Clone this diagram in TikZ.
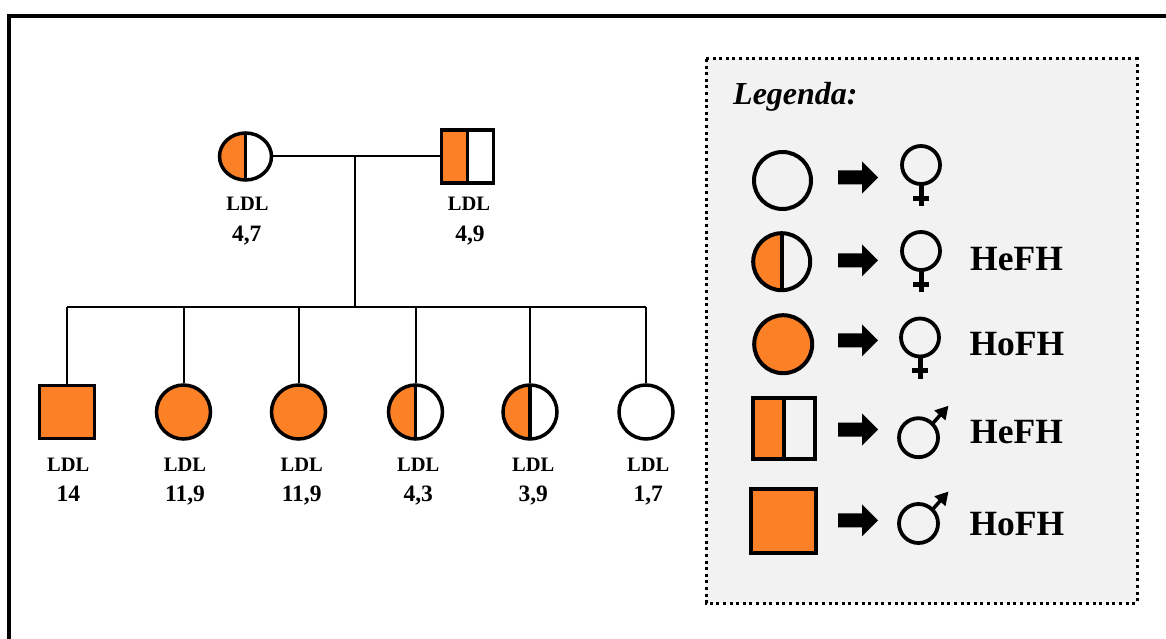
\documentclass[tikz,border=0pt]{standalone}
\usepackage{fontspec}
\setmainfont{Liberation Serif}
\usetikzlibrary{arrows.meta,shapes.geometric}
\definecolor{fhorange}{RGB}{252,129,38}
\definecolor{legendgray}{RGB}{242,242,242}
\def\legarrow(#1,#2){\fill[shift={(#1,#2)}] (0,-7) -- (24,-7) -- (24,-16) -- (40,0) -- (24,16) -- (24,7) -- (0,7) -- cycle;}
\def\femalesign(#1,#2){\draw[line width=3.8pt] (#1,#2) circle (19); \draw[line width=5pt] (#1,#2) ++(0,20) -- ++(0,21); \draw[line width=5pt] (#1,#2) ++(-8,33) -- ++(16,0);}
\def\malesign(#1,#2){\draw[line width=3.8pt] (#1,#2) circle (19.5); \draw[line width=3.5pt, -{Triangle[length=13pt,width=14pt]}] (#1,#2) ++(14,-14) -- ++(16,-18);}

\tikzset{
	person/.style={draw, line width=3.5pt, inner sep=0pt, fill=white},
	female/.style={person, circle, minimum size=54pt},
	male/.style={person, rectangle, minimum width=55pt, minimum height=53pt},
	hofh/.style={fill=fhorange},
	hefh/.style={path picture={\fill[fhorange] (path picture bounding box.south west) rectangle (path picture bounding box.north); \draw[line width=#1] (path picture bounding box.south) -- (path picture bounding box.north);}},
	hefh/.default=3.5pt,
	line/.style={line width=2pt},
	ldl/.style={anchor=base, inner sep=0pt, font=\bfseries\fontsize{20.5}{21}\selectfont},
	value/.style={anchor=base, inner sep=0pt, font=\bfseries\fontsize{23.5}{24}\selectfont},
	key/.style={line width=4pt, fill=none},
	keytext/.style={anchor=base west, inner sep=0pt, font=\bfseries\fontsize{35.5}{36}\selectfont},
}

\begin{document}
\begin{tikzpicture}[x=1pt, y=-1pt]
		%%%%% START %%%%%
		\useasboundingbox (0,0) rectangle (1166,639);
		
		\draw[line width=4pt] (9,639) -- (9,16) -- (1166,16);
		
		% parents
		\node[female, hefh, shape=ellipse, minimum width=52pt, minimum height=47pt] (mother) at (245.5,156.5) {};
		\node[male, hefh, minimum width=52pt, minimum height=53pt] (father) at (467.5,156.5) {};
		\draw[line] (mother) -- (father);
		
		\node[ldl] (mother-ldl) at (247.5,210.7) {LDL};
		\node[value] (mother-val) at (246.7,241.7) {4,7};
		\node[ldl] (father-ldl) at (469,210.7) {LDL};
		\node[value] (father-val) at (470,241.7) {4,9};
		
		% children
		\node[male, hofh] (child1) at (67,412) {};
		\node[female, hofh] (child2) at (183.5,412) {};
		\node[female, hofh] (child3) at (298.5,412) {};
		\node[female, hefh] (child4) at (415.5,412) {};
		\node[female, hefh] (child5) at (530,412) {};
		\node[female] (child6) at (646,412) {};
		
		\coordinate (union) at (355,156.5);
		\coordinate (sibship) at (355,307);
		\draw[line] (union) -- (sibship);
		\draw[line] (child1 |- sibship) -- (child6 |- sibship);
		\draw[line] (child1 |- sibship) -- (child1);
		\draw[line] (child2 |- sibship) -- (child2);
		\draw[line] (child3 |- sibship) -- (child3);
		\draw[line] (child4 |- sibship) -- (child4);
		\draw[line] (child5 |- sibship) -- (child5);
		\draw[line] (child6 |- sibship) -- (child6);
		
		\node[ldl] (child1-ldl) at (68.3,471.7) {LDL};
		\node[value] (child1-val) at (68.3,501.7) {14};
		\node[ldl] (child2-ldl) at (185,471.7) {LDL};
		\node[value] (child2-val) at (185,501.7) {11,9};
		\node[ldl] (child3-ldl) at (301.7,471.7) {LDL};
		\node[value] (child3-val) at (301.7,501.7) {11,9};
		\node[ldl] (child4-ldl) at (418.3,471.7) {LDL};
		\node[value] (child4-val) at (418.3,501.7) {4,3};
		\node[ldl] (child5-ldl) at (533.3,471.7) {LDL};
		\node[value] (child5-val) at (533.3,501.7) {3,9};
		\node[ldl] (child6-ldl) at (648.3,471.7) {LDL};
		\node[value] (child6-val) at (648.3,501.7) {1,7};
		
		% legend
		\draw[fill=legendgray, line width=3pt, dash pattern=on 3pt off 3.6pt] (706,59) rectangle (1137,603);
		\node[anchor=base west, inner sep=0pt, font=\bfseries\itshape\fontsize{32}{32}\selectfont] (legend-title) at (733,105) {Legenda:};
		
		\node[female, key, minimum size=57pt] (key1) at (782.5,180.5) {};
		\node[female, key, hefh=4pt, minimum size=57pt] (key2) at (781.7,261.7) {};
		\node[female, key, hofh, minimum size=58pt] (key3) at (783.2,344.2) {};
		\node[male, key, hefh=4pt, minimum width=62pt, minimum height=61pt] (key4) at (784,428.5) {};
		\node[male, key, hofh, minimum width=65pt, minimum height=64pt] (key5) at (783.5,521) {};
		
		\legarrow(838,177.5)
		\legarrow(838,260.3)
		\legarrow(838,340.3)
		\legarrow(838,429.5)
		\legarrow(838,520.3)
		
		\femalesign(921,165)
		\femalesign(921,251)
		\femalesign(920,337.5)
		\malesign(918.5,437.7)
		\malesign(918.5,523.5)
		
		\node[keytext] (key2-text) at (970,270) {HeFH};
		\node[keytext] (key3-text) at (969.3,355) {HoFH};
		\node[keytext] (key4-text) at (970,443.3) {HeFH};
		\node[keytext] (key5-text) at (969.3,535) {HoFH};
		
		%%%%% END %%%%%
	\end{tikzpicture}
\end{document}
